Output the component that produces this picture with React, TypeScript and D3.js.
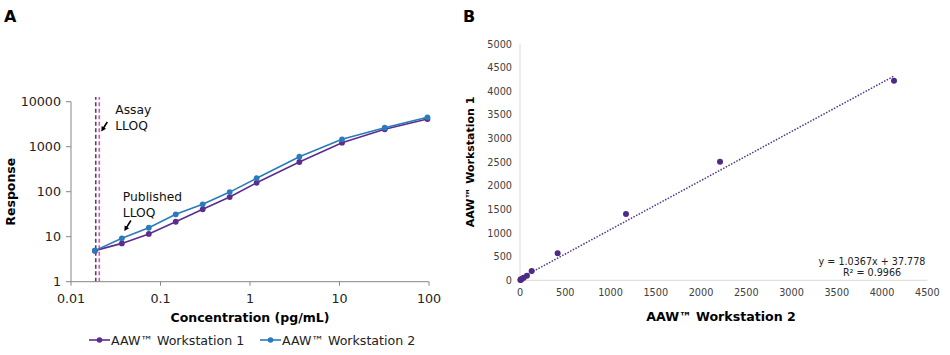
import React from "react";
import * as d3 from "d3";

const concentrations = [0.0185, 0.037, 0.074, 0.148, 0.296, 0.593, 1.185, 3.56, 10.67, 32, 96];
const responseWS1 = [4.9, 7.1, 11.5, 21.5, 40.6, 76, 158, 457, 1228, 2440, 4130];
const responseWS2 = [4.9, 9.2, 15.8, 31.5, 52.5, 98, 199, 600, 1460, 2640, 4500];
const lloqLines = [
  { name: "assay", value: 0.0189, color: "#4a3f92" },
  { name: "published", value: 0.0207, color: "#e4559c" },
];
const logTicksX = [0.01, 0.1, 1, 10, 100];
const logTickLabelsX = ["0.01", "0.1", "1", "10", "100"];
const logTicksY = [1, 10, 100, 1000, 10000];
const logTickLabelsY = ["1", "10", "100", "1000", "10000"];

const scatterX = [5, 7, 11, 21, 41, 76, 129, 416, 1171, 2210, 4132];
const scatterY = [5, 9, 16, 31, 52, 98, 197, 571, 1403, 2510, 4224];
const ticksBX = [0, 500, 1000, 1500, 2000, 2500, 3000, 3500, 4000, 4500];
const ticksBY = [0, 500, 1000, 1500, 2000, 2500, 3000, 3500, 4000, 4500, 5000];
const trendSlope = 1.0367;
const trendIntercept = 37.778;
const trendLabel = "y = 1.0367x + 37.778";
const r2Label = "R² = 0.9966";

const seriesNames = ["AAW™ Workstation 1", "AAW™ Workstation 2"];
const PURPLE = "#5b2d8e";
const TEAL = "#2a7bb9";
const FONT = "'DejaVu Sans', Verdana, sans-serif";

export default function App() {
  const xA = d3.scaleLog().domain([0.01, 100]).range([71, 429]);
  const yA = d3.scaleLog().domain([1, 10000]).range([281.7, 101.7]);
  const xB = d3.scaleLinear().domain([0, 4500]).range([520, 927.3]);
  const yB = d3.scaleLinear().domain([0, 5000]).range([280.3, 44]);

  const line = d3
    .line<number>()
    .x((_, i) => xA(concentrations[i]))
    .y((d) => yA(d));

  const series = [
    { vals: responseWS1, color: PURPLE },
    { vals: responseWS2, color: TEAL },
  ];

  const trendMax = d3.max(scatterX) as number;
  const trendPts: [number, number][] = [0, trendMax].map((x) => [
    xB(x),
    yB(trendSlope * x + trendIntercept),
  ]);

  const arrow = (x1: number, y1: number, x2: number, y2: number) => {
    const ang = Math.atan2(y2 - y1, x2 - x1);
    const L = 5.5;
    const w = 0.5;
    const p1 = [x2 - L * Math.cos(ang - w), y2 - L * Math.sin(ang - w)];
    const p2 = [x2 - L * Math.cos(ang + w), y2 - L * Math.sin(ang + w)];
    return (
      <g>
        <line x1={x1} y1={y1} x2={x2 - 3 * Math.cos(ang)} y2={y2 - 3 * Math.sin(ang)} stroke="#000" strokeWidth={1.6} />
        <polygon points={`${x2},${y2} ${p1[0]},${p1[1]} ${p2[0]},${p2[1]}`} fill="#000" />
      </g>
    );
  };

  const assayX = xA(lloqLines[1].value);
  const pubPt = [xA(concentrations[1]), yA(responseWS2[1])];

  return (
    <svg
      width={950}
      height={355}
      style={{ position: "absolute", left: 0, top: 0, background: "#fff" }}
      fontFamily={FONT}
    >
      <rect x={0} y={0} width={950} height={355} fill="#fff" />
      {/* Panel labels */}
      <text x={4} y={22} fontSize={16} fontWeight="bold" fill="#000">A</text>
      <text x={463} y={22} fontSize={16} fontWeight="bold" fill="#000">B</text>

      {/* ===== Chart A ===== */}
      {lloqLines.map((l) => (
        <line
          key={l.name}
          x1={xA(l.value)}
          x2={xA(l.value)}
          y1={yA(1)}
          y2={yA(12800)}
          stroke={l.color}
          strokeWidth={1.6}
          strokeDasharray="4,2.5"
        />
      ))}
      <line x1={xA(0.01)} x2={xA(100)} y1={yA(1)} y2={yA(1)} stroke="#868686" strokeWidth={1} />
      <line x1={xA(0.01)} x2={xA(0.01)} y1={yA(1)} y2={yA(10000)} stroke="#868686" strokeWidth={1} />
      {logTicksX.map((t, i) => (
        <g key={"xa" + t}>
          <line x1={xA(t)} x2={xA(t)} y1={yA(1)} y2={yA(1) + 4} stroke="#868686" />
          <text x={xA(t)} y={yA(1) + 21} fontSize={12.7} textAnchor="middle" fill="#222">
            {logTickLabelsX[i]}
          </text>
        </g>
      ))}
      {logTicksY.map((t, i) => (
        <g key={"ya" + t}>
          <line x1={xA(0.01) - 5} x2={xA(0.01)} y1={yA(t)} y2={yA(t)} stroke="#868686" />
          <text x={xA(0.01) - 10} y={yA(t) + 4.5} fontSize={12.7} textAnchor="end" fill="#222">
            {logTickLabelsY[i]}
          </text>
        </g>
      ))}
      <text x={250} y={321.5} fontSize={12.5} fontWeight="bold" textAnchor="middle" fill="#000">
        Concentration (pg/mL)
      </text>
      <text
        transform={`translate(14.5,191.7) rotate(-90)`}
        fontSize={12.5}
        fontWeight="bold"
        textAnchor="middle"
        fill="#000"
      >
        Response
      </text>
      {series.map((s, si) => (
        <g key={"s" + si}>
          <path d={line(s.vals) || ""} fill="none" stroke={s.color} strokeWidth={1.6} />
          {s.vals.map((v, i) => (
            <circle key={i} cx={xA(concentrations[i])} cy={yA(v)} r={2.9} fill={s.color} />
          ))}
        </g>
      ))}
      <text x={assayX + 16} y={114} fontSize={12.3} fill="#111">Assay</text>
      <text x={assayX + 16} y={129.5} fontSize={12.3} fill="#111">LLOQ</text>
      {arrow(assayX + 8, 122, assayX + 2, 131.5)}
      <text x={pubPt[0] + 1} y={201} fontSize={12.3} fill="#111">Published</text>
      <text x={pubPt[0] + 1} y={216.5} fontSize={12.3} fill="#111">LLOQ</text>
      {arrow(pubPt[0] + 9, 220.5, pubPt[0] + 2.5, 231)}
      {series.map((s, si) => {
        const lx = si === 0 ? 89 : 260;
        return (
          <g key={"lg" + si}>
            <line x1={lx} x2={lx + 21} y1={340} y2={340} stroke={s.color} strokeWidth={1.6} />
            <circle cx={lx + 10.5} cy={340} r={2.8} fill={s.color} />
            <text x={lx + 22} y={344.5} fontSize={12.6} fill="#222">
              {seriesNames[si]}
            </text>
          </g>
        );
      })}

      {/* ===== Chart B ===== */}
      <line x1={xB(0)} x2={xB(4500)} y1={yB(0)} y2={yB(0)} stroke="#d9d9d9" strokeWidth={1} />
      <line x1={xB(0)} x2={xB(0)} y1={yB(0)} y2={yB(5000)} stroke="#d9d9d9" strokeWidth={1} />
      {ticksBX.map((t) => (
        <text key={"xb" + t} x={xB(t)} y={yB(0) + 16} fontSize={9.7} textAnchor="middle" fill="#404040">
          {t}
        </text>
      ))}
      {ticksBY.map((t) => (
        <text key={"yb" + t} x={xB(0) - 8} y={yB(t) + 3.5} fontSize={9.7} textAnchor="end" fill="#404040">
          {t}
        </text>
      ))}
      <text x={721} y={321} fontSize={12.6} fontWeight="bold" textAnchor="middle" fill="#000">
        {seriesNames[1]}
      </text>
      <text
        transform={`translate(474,162) rotate(-90)`}
        fontSize={11}
        fontWeight="bold"
        textAnchor="middle"
        fill="#000"
      >
        {seriesNames[0]}
      </text>
      <path
        d={d3.line()(trendPts) || ""}
        fill="none"
        stroke="#4f3590"
        strokeWidth={1.5}
        strokeDasharray="1.5,1.5"
      />
      {scatterX.map((x, i) => (
        <circle key={"sc" + i} cx={xB(x)} cy={yB(scatterY[i])} r={3} fill="#4e2a84" />
      ))}
      <text x={872} y={264.5} fontSize={9.6} textAnchor="middle" fill="#222">
        {trendLabel}
      </text>
      <text x={872} y={276} fontSize={9.6} textAnchor="middle" fill="#222">
        {r2Label}
      </text>
    </svg>
  );
}
